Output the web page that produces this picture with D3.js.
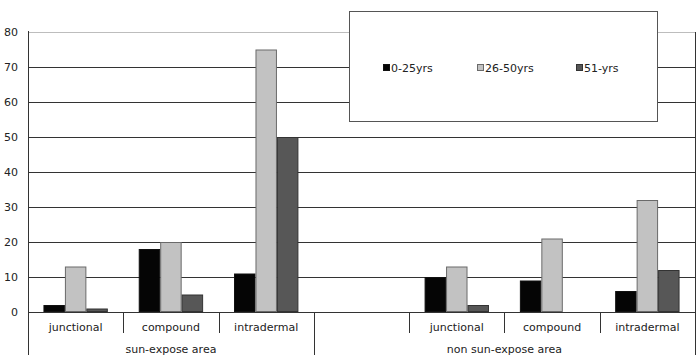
<!DOCTYPE html>
<html><head><meta charset="utf-8">
<script src="https://cdn.jsdelivr.net/npm/d3@7"></script>
<style>body{margin:0;background:#fff}svg{display:block}text{font-family:"DejaVu Sans",sans-serif;fill:#222}</style>
</head><body><svg id="c" width="700" height="359"></svg>
<script>
const slots = ["s-junctional","s-compound","s-intradermal","gap","n-junctional","n-compound","n-intradermal"];
const slotLabels = ["junctional","compound","intradermal","","junctional","compound","intradermal"];
const groups = ["sun-expose area","non sun-expose area"];
const groupSpans = [[0,3],[3,7]];
const series = ["0-25yrs","26-50yrs","51-yrs"];
const v0_25 = [2,18,11,null,10,9,6];
const v26_50 = [13,20,75,null,13,21,32];
const v51 = [1,5,50,null,2,0,12];
const yTicks = [0,10,20,30,40,50,60,70,80];
const colors = ["#050505","#c2c2c2","#575757"];
const strokes = ["#111","#6a6a6a","#333"];

const svg = d3.select("#c");
const L=28, R=695, T=32, B=312;
const x = d3.scaleBand().domain(slots).range([L,R]).paddingInner(0).paddingOuter(0);
const y = d3.scaleLinear().domain([0,80]).range([B,T]);
const inner = d3.scaleBand().domain(series).range([0,x.bandwidth()]).paddingInner(0).paddingOuter(0.72);

// gridlines
yTicks.forEach(t=>{
  svg.append("line").attr("x1",L).attr("x2",R).attr("y1",y(t)).attr("y2",y(t))
    .attr("stroke", t===80? "#bdbdbd":"#333").attr("stroke-width",1).attr("shape-rendering","crispEdges");
});
// y tick labels
const yAxis = d3.axisLeft(y).tickValues(yTicks).tickSize(0).tickPadding(10);
const ga = svg.append("g").attr("transform",`translate(${L},0)`).call(yAxis);
ga.select(".domain").remove();
ga.selectAll("text").attr("font-size",11).style("font-family","DejaVu Sans, sans-serif").attr("fill","#222");

// bars
const vals=[v0_25,v26_50,v51];
series.forEach((s,i)=>{
  slots.forEach((c,j)=>{
    const v=vals[i][j];
    if(v==null||v===0) return;
    svg.append("rect").attr("x",x(c)+inner(s)+0.5).attr("y",y(v)+0.5)
      .attr("width",inner.bandwidth()-1).attr("height",y(0)-y(v)-1)
      .attr("fill",colors[i]).attr("stroke",strokes[i]).attr("stroke-width",1);
  });
});

// axes lines
svg.append("line").attr("x1",L+0.5).attr("x2",L+0.5).attr("y1",T-1).attr("y2",355).attr("stroke","#333");
svg.append("line").attr("x1",R+0.5).attr("x2",R+0.5).attr("y1",T).attr("y2",355).attr("stroke","#333");
svg.append("line").attr("x1",L).attr("x2",R).attr("y1",B+0.5).attr("y2",B+0.5).attr("stroke","#333");
// category tick separators
slots.forEach((c,j)=>{
  if(j===0) return;
  const xx=Math.round(x(c))+0.5;
  svg.append("line").attr("x1",xx).attr("x2",xx).attr("y1",B).attr("y2", j===3?355:333).attr("stroke","#333");
});
// category labels
slots.forEach((c,j)=>{
  svg.append("text").attr("x",x(c)+x.bandwidth()/2).attr("y",331).attr("text-anchor","middle")
    .attr("font-size",11).text(slotLabels[j]);
});
// group labels
groups.forEach((g,k)=>{
  const a=x(slots[groupSpans[k][0]]), b=x(slots[groupSpans[k][1]-1])+x.bandwidth();
  svg.append("text").attr("x",(a+b)/2).attr("y",353).attr("text-anchor","middle").attr("font-size",11).text(g);
});

// legend
svg.append("rect").attr("x",349.5).attr("y",11.5).attr("width",308).attr("height",110).attr("fill","#fff").attr("stroke","#555");
const lx=[383,477,576];
series.forEach((s,i)=>{
  svg.append("rect").attr("x",lx[i]+0.5).attr("y",64.5).attr("width",6).attr("height",6).attr("fill",colors[i]).attr("stroke",strokes[i]);
  svg.append("text").attr("x",lx[i]+8).attr("y",72).attr("font-size",11).text(s);
});
</script></body></html>
